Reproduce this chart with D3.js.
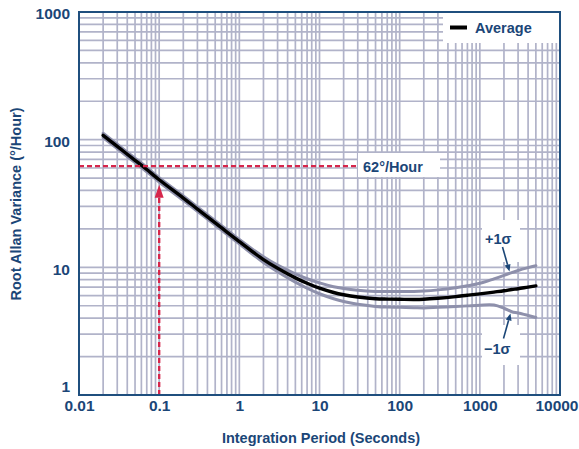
<!DOCTYPE html>
<html>
<head>
<meta charset="utf-8">
<script src="https://cdn.jsdelivr.net/npm/d3@7"></script>
<style>
  html, body { margin: 0; padding: 0; background: #fff; }
  svg { display: block; font-family: "Liberation Sans", Arial, Helvetica, sans-serif; }
</style>
</head>
<body>
<svg id="chart" width="579" height="449"></svg>
<script>
// Integration period (s)
const tau = [0.02, 0.03, 0.05, 0.07, 0.1, 0.2, 0.3, 0.5, 0.7, 1, 1.5, 2, 3, 5, 7, 10, 15, 20, 30, 50, 70,
             100, 150, 200, 300, 500, 700, 1000, 1500, 2000, 2500, 3000, 4000, 5000];
// Root Allan variance (°/hour): average and ±1σ envelopes
const average = [108, 88.5, 68.9, 58.4, 48.5, 34.9, 28.6, 22.3, 18.9, 15.9, 13.1, 11.5, 9.83, 8.27, 7.5, 6.86, 6.35, 6.1, 5.86, 5.68, 5.64,
                 5.62, 5.6, 5.62, 5.72, 5.9, 6.05, 6.2, 6.4, 6.55, 6.7, 6.8, 7.0, 7.15];
const plusSigma = [112.3, 92.0, 71.7, 60.7, 50.4, 36.3, 29.7, 23.2, 19.7, 16.5, 13.7, 12.1, 10.4, 8.89, 8.14, 7.55, 7.05, 6.83, 6.62, 6.48, 6.46,
                   6.46, 6.47, 6.52, 6.66, 6.93, 7.17, 7.5, 8.13, 8.65, 9.1, 9.45, 9.94, 10.3];
const minusSigma = [103.7, 85.0, 66.1, 56.1, 46.6, 33.5, 27.5, 21.4, 18.1, 15.3, 12.5, 10.9, 9.24, 7.65, 6.86, 6.21, 5.68, 5.4, 5.13, 4.94, 4.88,
                    4.86, 4.83, 4.81, 4.86, 4.93, 4.99, 5.05, 5.06, 4.78, 4.49, 4.39, 4.2, 4.05];

const xTicks = [0.01, 0.1, 1, 10, 100, 1000, 10000];
const xTickLabels = ["0.01", "0.1", "1", "10", "100", "1000", "10000"];
const yTicks = [1, 10, 100, 1000];
const yTickLabels = ["1", "10", "100", "1000"];

// Bias-stability read-out
const markerTau = 0.1;
const markerValue = 62;
const markerLabel = "62°/Hour";

const textColor = "#1b4677";
const frameColor = "#1f4f7e";
const gridColor = "#b1b3c9";
const bandColor = "#8e90ab";
const red = "#d6264b";

const svg = d3.select("#chart");
const x = d3.scaleLog().domain([0.01, 10000]).range([79, 560]);
const y = d3.scaleLog().domain([1, 1000]).range([395, 12]);

// grid
const grid = svg.append("g");
grid.selectAll("line.v").data(x.ticks()).join("line")
  .attr("x1", d => x(d)).attr("x2", d => x(d))
  .attr("y1", y.range()[0]).attr("y2", y.range()[1])
  .attr("stroke", gridColor).attr("stroke-width", 1.7);
grid.selectAll("line.h").data(y.ticks()).join("line")
  .attr("y1", d => y(d)).attr("y2", d => y(d))
  .attr("x1", x.range()[0]).attr("x2", x.range()[1])
  .attr("stroke", gridColor).attr("stroke-width", 1.7);

// white label panels over the grid
const panels = [
  [443, 13, 116, 30],   // legend
  [358, 153, 82, 24],   // 62°/Hour
  [482, 220, 38, 42],   // +1σ
  [482, 325, 38, 40]    // −1σ
];
svg.append("g").selectAll("rect").data(panels).join("rect")
  .attr("x", d => d[0]).attr("y", d => d[1]).attr("width", d => d[2]).attr("height", d => d[3])
  .attr("fill", "#fff");

// curves
const line = d3.line().x(d => x(d[0])).y(d => y(d[1])).curve(d3.curveCatmullRom.alpha(0.5));
const series = [
  { vals: plusSigma, color: bandColor, w: 3 },
  { vals: minusSigma, color: bandColor, w: 3 },
  { vals: average, color: "#000", w: 3.4 }
];
svg.append("g").selectAll("path").data(series).join("path")
  .attr("d", s => line(tau.map((t, i) => [t, s.vals[i]])))
  .attr("fill", "none").attr("stroke", s => s.color).attr("stroke-width", s => s.w)
  .attr("stroke-linejoin", "round").attr("stroke-linecap", "round");

// red read-out lines
const avgAtMarker = average[tau.indexOf(markerTau)];
svg.append("line")
  .attr("x1", x.range()[0]).attr("x2", 356)
  .attr("y1", y(markerValue)).attr("y2", y(markerValue))
  .attr("stroke", red).attr("stroke-width", 2.4).attr("stroke-dasharray", "5,3");
const tipY = y(avgAtMarker) + 5;
svg.append("line")
  .attr("x1", x(markerTau)).attr("x2", x(markerTau))
  .attr("y1", y.range()[0]).attr("y2", tipY + 10)
  .attr("stroke", red).attr("stroke-width", 2.4).attr("stroke-dasharray", "5,3");
svg.append("path")
  .attr("d", `M${x(markerTau)},${tipY} l-4.5,13 l9,0 Z`)
  .attr("fill", red);

svg.append("text").attr("x", 363).attr("y", 171.5)
  .attr("fill", textColor).attr("font-weight", "bold").attr("font-size", 14.5)
  .text(markerLabel);

// legend
svg.append("line").attr("x1", 450).attr("x2", 467).attr("y1", 27.5).attr("y2", 27.5)
  .attr("stroke", "#000").attr("stroke-width", 4);
svg.append("text").attr("x", 475).attr("y", 33)
  .attr("fill", textColor).attr("font-weight", "bold").attr("font-size", 14.5)
  .text("Average");

// sigma labels with arrows
svg.append("text").attr("x", 485).attr("y", 243.5)
  .attr("fill", textColor).attr("font-weight", "bold").attr("font-size", 14.5).text("+1σ");
svg.append("text").attr("x", 484).attr("y", 353.5)
  .attr("fill", textColor).attr("font-weight", "bold").attr("font-size", 14.5).text("\u22121σ");

function arrow(x1, y1, x2, y2) {
  const a = Math.atan2(y2 - y1, x2 - x1);
  const len = 7, half = 3;
  const bx = x2 - len * Math.cos(a), by = y2 - len * Math.sin(a);
  svg.append("line").attr("x1", x1).attr("y1", y1).attr("x2", bx).attr("y2", by)
    .attr("stroke", textColor).attr("stroke-width", 1.6);
  svg.append("path")
    .attr("d", `M${x2},${y2} L${bx + half * Math.sin(a)},${by - half * Math.cos(a)} L${bx - half * Math.sin(a)},${by + half * Math.cos(a)} Z`)
    .attr("fill", textColor);
}
arrow(502.5, 247, 509.5, 271.5);
arrow(503.5, 338.5, 510.5, 313.5);

// frame
svg.append("rect")
  .attr("x", x.range()[0]).attr("y", y.range()[1])
  .attr("width", x.range()[1] - x.range()[0]).attr("height", y.range()[0] - y.range()[1])
  .attr("fill", "none").attr("stroke", frameColor).attr("stroke-width", 2);

// axes
const xAxis = d3.axisBottom(x).tickValues(xTicks).tickSize(0).tickPadding(5)
  .tickFormat((d, i) => xTickLabels[i]);
const gx = svg.append("g").attr("transform", `translate(0,${y.range()[0]})`).call(xAxis);
gx.select(".domain").remove();
gx.selectAll("text").attr("fill", textColor).attr("font-weight", "bold").attr("font-size", 15.5)
  .attr("font-family", "'Liberation Sans', Arial, sans-serif");
// keep the last label inside the page
gx.selectAll(".tick").filter(d => d === 10000).select("text")
  .attr("text-anchor", "end").attr("x", 578 - x(10000));

const yAxis = d3.axisLeft(y).tickValues(yTicks).tickSize(0).tickPadding(9)
  .tickFormat((d, i) => yTickLabels[i]);
const gy = svg.append("g").attr("transform", `translate(${x.range()[0]},0)`).call(yAxis);
gy.select(".domain").remove();
gy.selectAll("text").attr("fill", textColor).attr("font-weight", "bold").attr("font-size", 15.5)
  .attr("font-family", "'Liberation Sans', Arial, sans-serif")
  .attr("dy", d => d === 1 ? "-0.25em" : "0.45em");

// axis titles
svg.append("text").attr("x", 321).attr("y", 443).attr("text-anchor", "middle")
  .attr("fill", textColor).attr("font-weight", "bold").attr("font-size", 14.5)
  .text("Integration Period (Seconds)");
svg.append("text").attr("transform", "translate(21,204) rotate(-90)").attr("text-anchor", "middle")
  .attr("fill", textColor).attr("font-weight", "bold").attr("font-size", 14.5)
  .text("Root Allan Variance (°/Hour)");
</script>
</body>
</html>
